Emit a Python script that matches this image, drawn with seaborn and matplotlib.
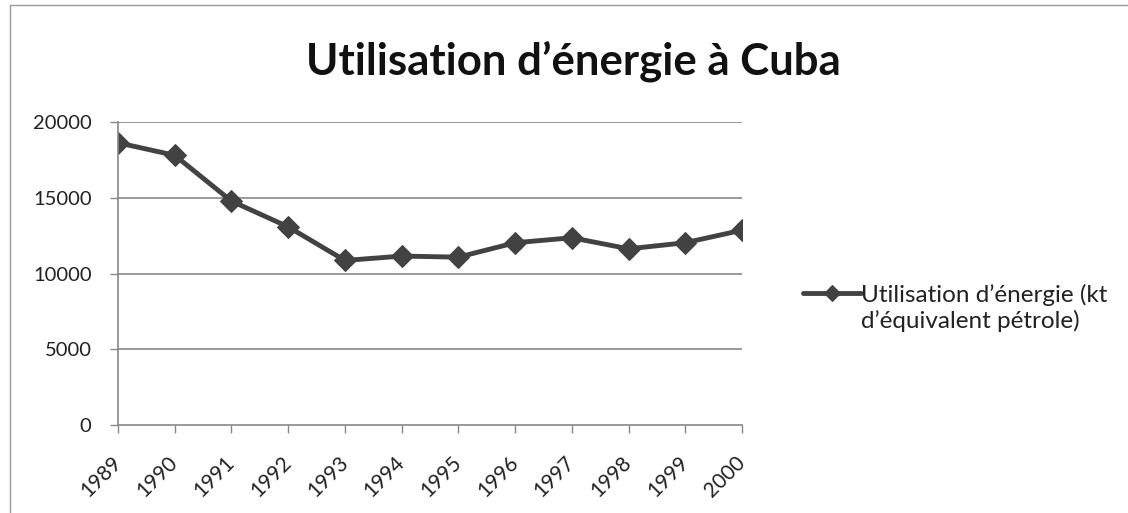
import matplotlib
matplotlib.use("Agg")
import matplotlib.pyplot as plt
from matplotlib.lines import Line2D
from matplotlib.legend_handler import HandlerLine2D
from matplotlib.transforms import Affine2D
import seaborn as sns
import pandas as pd

years = ["1989", "1990", "1991", "1992", "1993", "1994", "1995", "1996", "1997", "1998", "1999", "2000"]
energy = [18630, 17800, 14780, 13080, 10860, 11150, 11080, 12030, 12360, 11630, 12030, 12860]
series_label = "Utilisation d’énergie (kt\nd’équivalent pétrole)"
title = "Utilisation d’énergie à Cuba"
yticks = [0, 5000, 10000, 15000, 20000]

sns.set_theme(style="white")
plt.rcParams['font.family'] = ['Lato', 'DejaVu Sans']

df = pd.DataFrame({"year": years, "value": energy})

fig = plt.figure(figsize=(11.28, 5.13), dpi=100)
ax = fig.add_axes([0.1046, 0.1715, 0.5532, 0.5907])

color = "#424242"
sns.lineplot(data=df, x="year", y="value", ax=ax, color=color, linewidth=3.5,
             marker="D", markersize=11, markeredgecolor=color, markerfacecolor=color,
             label=series_label, sort=False)

ax.set_xlim(0, len(years) - 1)
ax.set_ylim(0, 20000)
ax.set_yticks(yticks)
ax.set_yticklabels([str(v) for v in yticks], fontsize=14.5, color="#222222")
ax.set_xticks(range(len(years)))
ax.set_xticklabels(years, rotation=45, ha="right", va="center", rotation_mode="anchor",
                   fontsize=15, color="#222222")
ax.set_xlabel("")
ax.set_ylabel("")

for v in yticks[1:]:
    ax.axhline(v, color="#888888", linewidth=1.2, zorder=0)

for s in ["top", "right"]:
    ax.spines[s].set_visible(False)
for s in ["left", "bottom"]:
    ax.spines[s].set_color("#888888")
    ax.spines[s].set_linewidth(1.2)
ax.tick_params(axis="both", which="both", length=6, width=1, color="#888888", direction="out",
               left=True, bottom=True)
ax.tick_params(axis="y", pad=13)
ax.tick_params(axis="x", pad=19)


class UpHandler(HandlerLine2D):
    def create_artists(self, legend, orig_handle, xdescent, ydescent, width, height,
                       fontsize, trans):
        shifted = Affine2D().translate(0, 10.5) + trans
        arts = super().create_artists(legend, orig_handle, xdescent, ydescent, width, height,
                                      fontsize, shifted)
        for a in arts:
            a.set_markersize(8)
        return arts


handles, labels = ax.get_legend_handles_labels()
leg = ax.legend(handles, labels, loc="center left", bbox_to_anchor=(0.703, 0.400),
                bbox_transform=fig.transFigure, frameon=False, fontsize=17.5,
                handlelength=2.4, handletextpad=0.0, borderaxespad=0,
                handler_map={handles[0]: UpHandler()})
for t in leg.get_texts():
    t.set_color("#222222")

fig.text(0.508, 1 - 75 / 513, title, ha="center", va="baseline", fontsize=31.5,
         fontweight="bold", color="#111111")

# chart border
fig.add_artist(Line2D([0.009, 0.009], [0.0, 0.99], transform=fig.transFigure, color="#9a9a9a", linewidth=1))
fig.add_artist(Line2D([0.009, 0.999], [0.99, 0.99], transform=fig.transFigure, color="#9a9a9a", linewidth=1))

fig.savefig("out.png", dpi=100)
